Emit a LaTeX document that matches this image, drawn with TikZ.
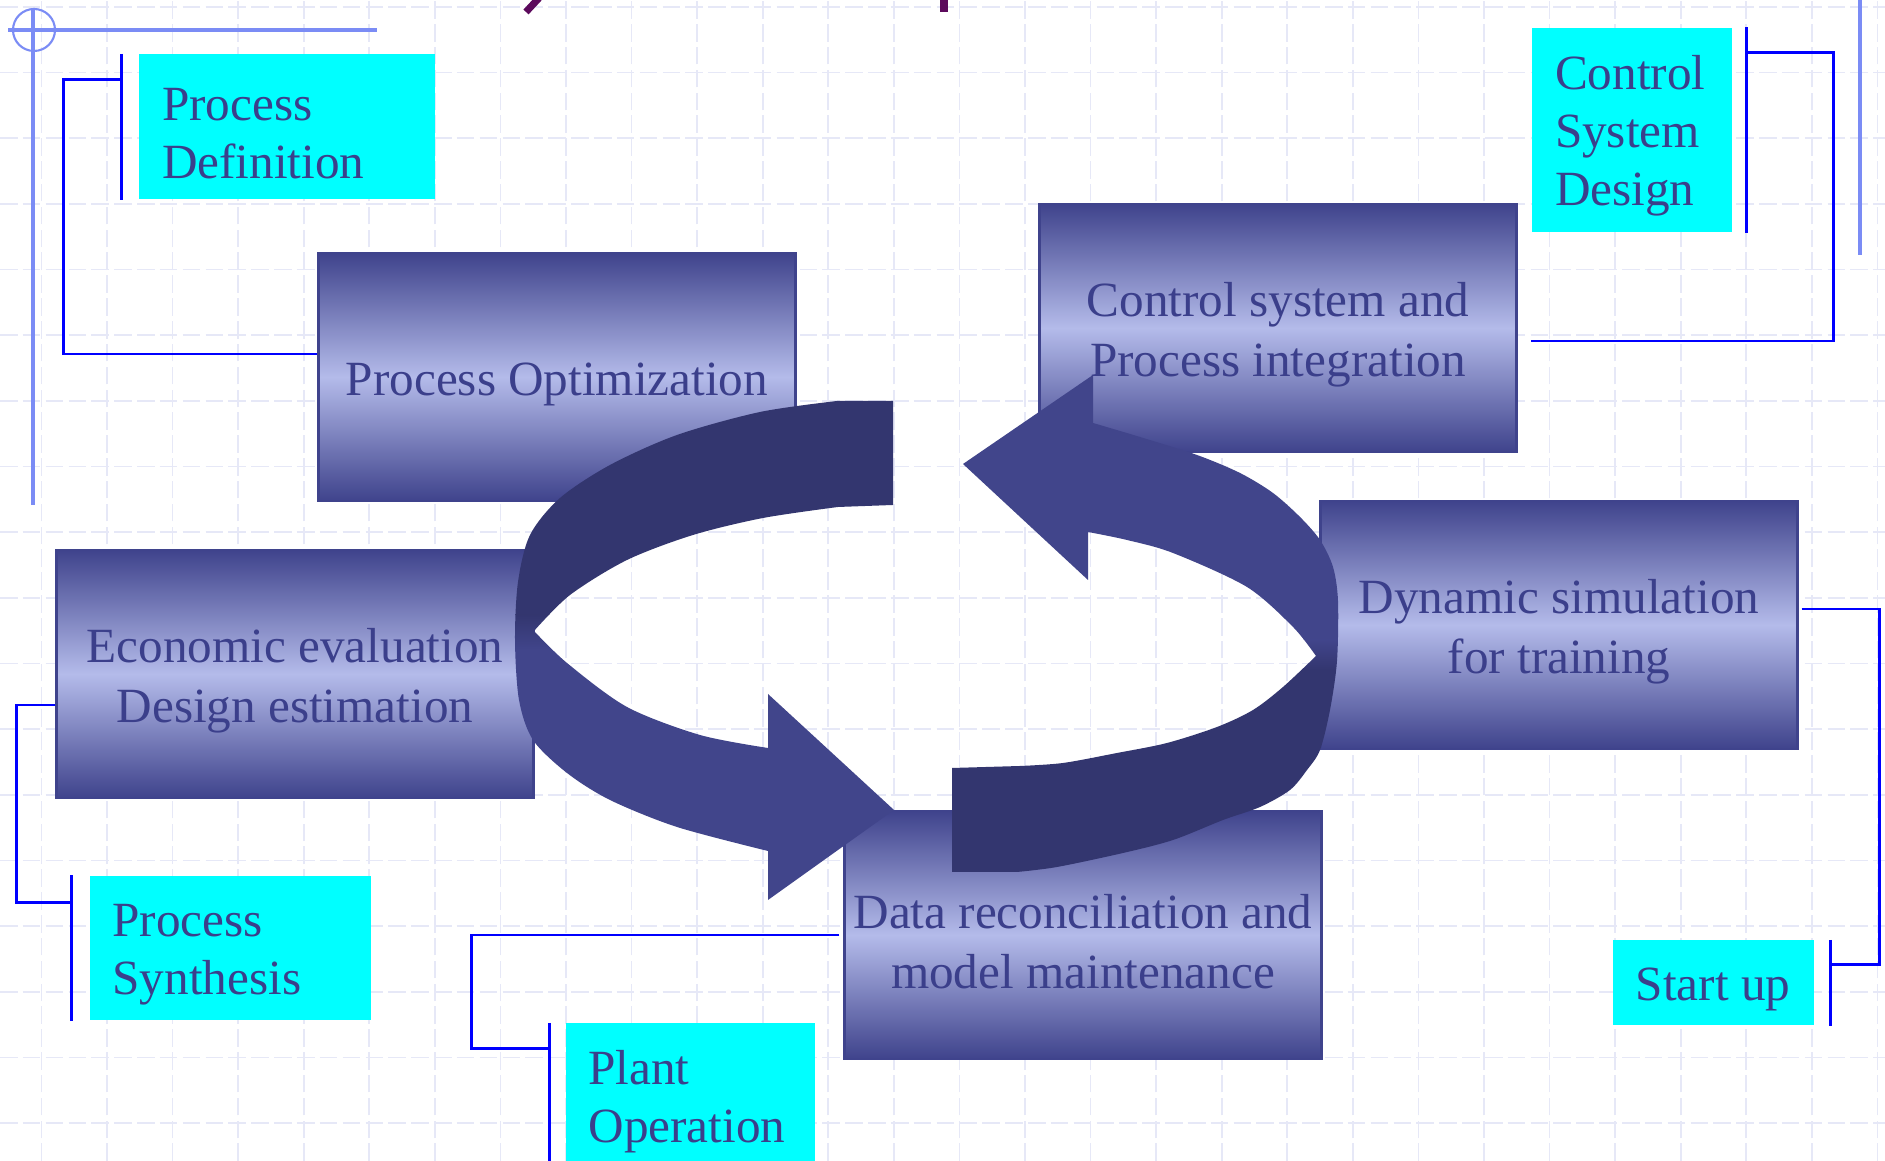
\documentclass[tikz,border=0pt]{standalone}
\usepackage{fontspec}
\setmainfont{Liberation Serif}
\usepackage{tikz}

\definecolor{boxdark}{RGB}{63,67,140}
\definecolor{boxlight}{RGB}{180,187,234}
\definecolor{arrowmid}{RGB}{65,69,139}
\definecolor{arrowdark}{RGB}{51,54,111}
\definecolor{txtblue}{RGB}{59,63,139}
\definecolor{tagcyan}{RGB}{0,255,255}
\definecolor{linkblue}{RGB}{0,0,255}
\definecolor{crossblue}{RGB}{123,140,245}
\definecolor{gridcol}{RGB}{230,232,247}
\definecolor{titlepurple}{RGB}{92,10,92}

\tikzset{
  stage/.style={draw=boxdark, line width=0.6pt, top color=boxdark, bottom color=boxdark, middle color=boxlight,
    text width=4.77cm, minimum height=2.48cm, inner xsep=0pt, inner ysep=0pt, align=flush center, text=txtblue,
    text height=13.5pt, font=\fontsize{14}{17}\selectfont},
  tag/.style={fill=tagcyan, text=txtblue, align=flush left, inner xsep=0.23cm, inner ysep=0pt,
    text height=13pt, font=\fontsize{14}{16.5}\selectfont},
  link/.style={linkblue, line width=0.8pt},
  gridline/.style={gridcol, line width=0.5pt, dash pattern=on 5pt off 1.5pt}
}

\begin{document}
\begin{tikzpicture}
\useasboundingbox (0,0) rectangle (18.85,11.61);
\fill[white] (0,0) rectangle (18.85,11.61);

\begin{scope}[shift={(0.414,0.377)}]
\draw[gridline, xstep=0.6557, ystep=0.6568] (-0.414,-0.377) grid (18.436,11.233);
\end{scope}

\draw[crossblue, line width=0.6pt] (0.34,11.31) circle (0.21);
\draw[crossblue, line width=0.9pt] (0.08,11.31) -- (3.77,11.31);
\draw[crossblue, line width=0.9pt] (0.33,11.53) -- (0.33,6.56);
\draw[crossblue, line width=0.9pt] (18.60,11.61) -- (18.60,9.06);

\draw[titlepurple, line width=2pt] (5.39,11.63) -- (5.26,11.49);
\draw[titlepurple, line width=2pt] (9.44,11.63) -- (9.44,11.49);

\node[stage] (Popt) at (5.57,7.84) {Process Optimization};
\node[stage] (Pint) at (12.78,8.33) {Control system and\\Process integration};
\node[stage] (Econ) at (2.95,4.87) {Economic evaluation\\Design estimation};
\node[stage] (Dyn) at (15.59,5.36) {Dynamic simulation\\for training};
\node[stage] (Data) at (10.83,2.26) {Data reconciliation and\\model maintenance};

\node[tag, text width=2.50cm, minimum height=1.45cm] (PD) at (2.87,10.34) {Process\\Definition};
\node[tag, text width=1.54cm, minimum height=2.04cm] (CSD) at (16.32,10.31) {Control\\System\\Design};
\node[tag, text width=2.35cm, minimum height=1.44cm] (PS) at (2.30,2.13) {Process\\Synthesis};
\node[tag, text width=2.03cm, minimum height=1.45cm] (PO) at (6.90,0.65) {Plant\\Operation};
\node[tag, align=center, minimum width=2.01cm, minimum height=0.85cm] (SU) at (17.13,1.78) {Start up};

\draw[link] ([xshift=-0.17cm]PD.north west) -- ([xshift=-0.17cm]PD.south west);
\draw[link] ([xshift=-0.17cm,yshift=-0.26cm]PD.north west) -- ++(-0.58,0) |- ([yshift=0.23cm]Popt.west);

\draw[link] ([xshift=0.14cm]CSD.north east) -- ([xshift=0.14cm]CSD.south east);
\draw[link] ([xshift=0.14cm,yshift=-0.25cm]CSD.north east) -- ++(0.87,0) |- ([xshift=0.13cm,yshift=-0.13cm]Pint.east);

\draw[link] ([xshift=-0.17cm]PS.north west) -- ([xshift=-0.17cm]PS.south west);
\draw[link] ([yshift=-0.31cm]Econ.west) -- ++(-0.39,0) |- ([xshift=-0.17cm,yshift=-0.27cm]PS.north west);

\draw[link] ([xshift=-0.15cm]PO.north west) -- ([xshift=-0.15cm]PO.south west);
\draw[link] ([xshift=-0.04cm]Data.west) -- ++(-3.68,0) |- ([xshift=-0.15cm,yshift=-0.26cm]PO.north west);

\draw[link] ([xshift=0.16cm]SU.north east) -- ([xshift=0.16cm]SU.south east);
\draw[link] ([xshift=0.03cm,yshift=0.16cm]Dyn.east) -- ++(0.78,0) |- ([xshift=0.16cm,yshift=-0.25cm]SU.north east);

% left half of the cycle
\begin{scope}
\clip (8.93,7.60) -- plot[smooth] coordinates {(8.37,7.60) (7.60,7.49) (6.77,7.26) (6.10,6.96) (5.60,6.63) (5.30,6.26) (5.18,5.79) (5.15,5.21) (5.19,4.61) (5.33,4.21) (5.67,3.88) (6.10,3.61) (6.77,3.34) (7.68,3.10)}
  -- (7.68,2.61) -- (8.94,3.51) -- (7.68,4.67)
  -- plot[smooth] coordinates {(7.68,4.13) (7.00,4.26) (6.27,4.54) (5.67,4.98) (5.34,5.30)}
  -- plot[smooth] coordinates {(5.34,5.30) (5.70,5.66) (6.27,6.01) (6.93,6.26) (7.63,6.43) (8.38,6.54)}
  -- (8.93,6.56) -- cycle;
\fill[arrowdark] (5,5.46) rectangle (9.1,7.7);
\fill[arrowmid] (5,2.5) rectangle (9.1,5.11);
\shade[top color=arrowdark, bottom color=arrowmid] (5,5.11) rectangle (9.1,5.46);
\end{scope}

% right half of the cycle
\begin{scope}
\clip (9.52,3.93) -- plot[smooth] coordinates {(10.20,3.95) (10.63,3.98) (11.17,4.08) (11.67,4.18) (12.17,4.34) (12.53,4.51) (12.83,4.74) (13.16,5.05)}
  -- plot[smooth] coordinates {(13.16,5.05) (12.93,5.34) (12.47,5.74) (11.73,6.08) (11.27,6.21) (10.88,6.29)}
  -- (10.88,5.81) -- (9.63,6.97) -- (10.93,7.86)
  -- plot[smooth] coordinates {(10.93,7.38) (11.40,7.24) (11.97,7.06) (12.40,6.88) (12.73,6.68) (13.00,6.44) (13.20,6.21) (13.33,5.94) (13.38,5.60) (13.37,5.00) (13.30,4.51) (13.20,4.11) (13.07,3.91) (12.90,3.71) (12.60,3.54) (12.23,3.41) (11.73,3.21) (11.23,3.08) (10.57,2.94) (10.17,2.89)}
  -- (9.52,2.89) -- cycle;
\fill[arrowmid] (9.4,5.21) rectangle (13.5,8);
\fill[arrowdark] (9.4,2.8) rectangle (13.5,4.91);
\shade[top color=arrowmid, bottom color=arrowdark] (9.4,4.91) rectangle (13.5,5.21);
\end{scope}
\end{tikzpicture}
\end{document}
